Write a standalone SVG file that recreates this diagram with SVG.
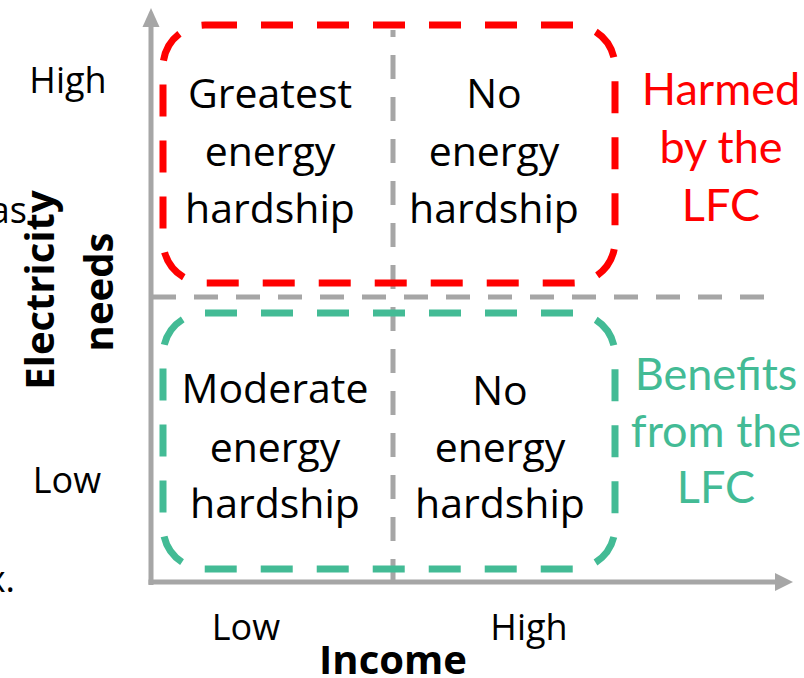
<svg xmlns="http://www.w3.org/2000/svg" width="804" height="678" viewBox="0 0 804 678">
<defs>
<style>
.q{font-family:"Open Sans","Noto Sans",sans-serif;font-size:41px;fill:#000;text-anchor:middle}
.ax{font-family:"Open Sans","Noto Sans",sans-serif;font-size:36px;fill:#000;text-anchor:middle}
.axb{font-family:"Open Sans","Noto Sans",sans-serif;font-size:40px;font-weight:bold;fill:#000;text-anchor:middle}
.side{font-family:Lato,"Open Sans",sans-serif;font-size:45px;text-anchor:middle}
.grid{stroke:#a6a6a6;stroke-width:5;fill:none;stroke-dasharray:24 18}
.zone{fill:none;stroke-width:7;stroke-dasharray:32 24}
</style>
</defs>
<rect width="804" height="678" fill="#fff"/>
<g id="fragments">
<text class="ax" x="27" y="223" style="text-anchor:end">as</text>
<text class="ax" x="15" y="592" style="text-anchor:end">x.</text>
</g>
<g id="connectors">
<line class="grid" x1="151" y1="297" x2="766" y2="297" stroke-dashoffset="41"/>
<line class="grid" x1="393" y1="30" x2="393" y2="582" stroke-dashoffset="17"/>
<line x1="151" y1="24" x2="151" y2="585" stroke="#a6a6a6" stroke-width="5"/>
<line x1="148.5" y1="582" x2="777" y2="582" stroke="#a6a6a6" stroke-width="5"/>
<polygon points="151,8 142.5,27 159.5,27" fill="#a6a6a6"/>
<polygon points="793,582 775,573 775,591" fill="#a6a6a6"/>
</g>
<g id="harmed-zone">
<rect class="zone" x="163" y="25" width="452" height="258" rx="42" ry="42" stroke="#ff0000"/>
</g>
<g id="benefit-zone">
<rect class="zone" x="163" y="313" width="452" height="256" rx="42" ry="42" stroke="#43bb95"/>
</g>
<g id="q-top-left">
<text class="q" x="270" y="108">Greatest</text>
<text class="q" x="270" y="166">energy</text>
<text class="q" x="270" y="223">hardship</text>
</g>
<g id="q-top-right">
<text class="q" x="494" y="108">No</text>
<text class="q" x="494" y="166">energy</text>
<text class="q" x="494" y="223">hardship</text>
</g>
<g id="q-bottom-left">
<text class="q" x="275" y="403">Moderate</text>
<text class="q" x="275" y="462">energy</text>
<text class="q" x="275" y="518">hardship</text>
</g>
<g id="q-bottom-right">
<text class="q" x="500" y="405">No</text>
<text class="q" x="500" y="462">energy</text>
<text class="q" x="500" y="518">hardship</text>
</g>
<g id="harmed-label">
<text class="side" x="721" y="105" fill="#ff0000">Harmed</text>
<text class="side" x="721" y="163" fill="#ff0000">by the</text>
<text class="side" x="721" y="221" fill="#ff0000">LFC</text>
</g>
<g id="benefit-label">
<text class="side" x="716" y="390" fill="#43bb95">Benefits</text>
<text class="side" x="716" y="447" fill="#43bb95">from the</text>
<text class="side" x="716" y="503" fill="#43bb95">LFC</text>
</g>
<g id="y-axis-labels">
<text class="ax" x="68" y="93">High</text>
<text class="ax" x="67" y="493">Low</text>
<text class="axb" transform="translate(54,290) rotate(-90)">Electricity</text>
<text class="axb" transform="translate(113,292) rotate(-90)">needs</text>
</g>
<g id="x-axis-labels">
<text class="ax" x="246" y="640">Low</text>
<text class="ax" x="529" y="640">High</text>
<text class="axb" x="393" y="674">Income</text>
</g>
</svg>
